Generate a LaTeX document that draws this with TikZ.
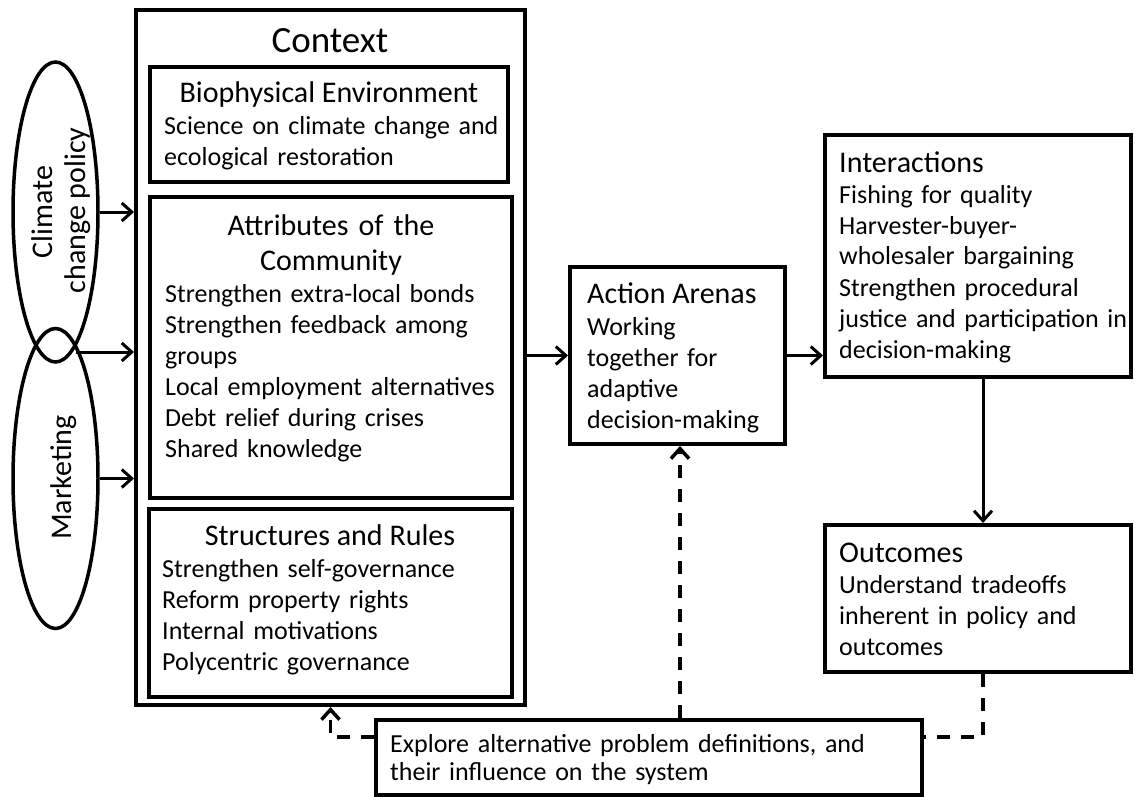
\documentclass[tikz,border=0pt]{standalone}
\usepackage{fontspec}
\setmainfont{Carlito}
\usetikzlibrary{arrows.meta,shapes.geometric}
\tikzset{
  box/.style={draw, rectangle, line width=4pt, inner sep=0pt},
  oval/.style={draw, ellipse, line width=3.5pt, inner sep=0pt,
    minimum width=85pt, minimum height=300pt},
  headtxt/.style={font=\fontsize{30}{35}\selectfont, inner sep=0pt},
  bodytxt/.style={font=\fontsize{26}{31}\selectfont, inner sep=0pt,
    text width=#1, align=left, anchor=base west},
  arr/.style={line width=3pt, -{Straight Barb[length=10pt,width=18pt]}},
  dsh/.style={line width=3.5pt, dash pattern=on 13pt off 11pt},
  darr/.style={dsh, -{Straight Barb[length=10pt,width=18pt]}}
}
\begin{document}
\begin{tikzpicture}[x=1pt,y=-1pt]
\useasboundingbox (0,0) rectangle (1135,797);

% external drivers
\node[oval] (clim) at (55.5,212) {};
\node[oval] (mkt) at (55.5,478.5) {};
\node[headtxt, rotate=90, anchor=base] (climT1) at (52,212) {Climate};
\node[headtxt, rotate=90, anchor=base] (climT2) at (85,210.5) {change policy};
\node[headtxt, rotate=90, anchor=base] (mktT) at (71,477.5) {Marketing};
\coordinate (lens) at (76,352);

% context frame and its three parts
\node[box, minimum width=389pt, minimum height=695pt] (ctx) at (330.5,357.5) {};
\node[font=\fontsize{37}{40}\selectfont, inner sep=0pt, anchor=base] (ctxT) at (330,53) {Context};

\node[box, minimum width=358pt, minimum height=115pt] (bio) at (329,124.5) {};
\node[headtxt, anchor=base] (bioT) at (329,103) {Biophysical Environment};
\node[bodytxt=340pt] (bioB) at (164,135)
  {Science on climate change and\\ecological restoration};

\node[box, minimum width=362pt, minimum height=301pt] (attr) at (331,347.5) {};
\node[headtxt, text width=340pt, align=center, anchor=base] (attrT) at (331,235)
  {Attributes of the\\Community};
\node[bodytxt=345pt] (attrB) at (165,302)
  {Strengthen extra-local bonds\\Strengthen feedback among\\groups\\Local employment alternatives\\Debt relief during crises\\Shared knowledge};

\node[box, minimum width=363pt, minimum height=188pt] (str) at (330.5,603) {};
\node[headtxt, anchor=base] (strT) at (330,545) {Structures and Rules};
\node[bodytxt=345pt] (strB) at (162,577)
  {Strengthen self-governance\\Reform property rights\\Internal motivations\\Polycentric governance};

% action arena
\node[box, minimum width=215pt, minimum height=177pt] (act) at (677.5,355.5) {};
\node[headtxt, anchor=base west] (actT) at (587,303) {Action Arenas};
\node[bodytxt=200pt] (actB) at (587,335)
  {Working\\together for\\adaptive\\decision-making};

% interactions and outcomes
\node[box, minimum width=306pt, minimum height=242pt] (inter) at (978,256) {};
\node[headtxt, anchor=base west] (interT) at (839,172) {Interactions};
\node[bodytxt=290pt] (interB) at (839,203)
  {Fishing for quality\\Harvester-buyer-\\wholesaler bargaining\\Strengthen procedural\\justice and participation in\\decision-making};

\node[box, minimum width=306pt, minimum height=147pt] (out) at (978,598.5) {};
\node[headtxt, anchor=base west] (outT) at (839,562) {Outcomes};
\node[bodytxt=290pt] (outB) at (839,593)
  {Understand tradeoffs\\inherent in policy and\\outcomes};

% feedback box
\node[box, minimum width=546pt, minimum height=75pt] (expl) at (649,757.5) {};
\node[bodytxt=520pt, font=\fontsize{26}{28.5}\selectfont] (explB) at (390,752)
  {Explore alternative problem definitions, and\\their influence on the system};

% connectors
\draw[arr] (clim.east) -- (clim.east -| ctx.west);
\draw[arr] (lens) -- (lens -| ctx.west);
\draw[arr] (mkt.east) -- (mkt.east -| ctx.west);
\draw[arr] (act.west -| ctx.east) -- (act.west);
\draw[arr] (act.east) -- (act.east -| inter.west);
\draw[arr] ([xshift=5pt]inter.south) -- ([xshift=5pt]out.north);

% dashed feedback loops
\draw[dsh] ([xshift=5pt]out.south) |- ([yshift=20.5pt]expl.east);
\draw[darr] ([xshift=31pt]expl.north) -- ([xshift=2.5pt]act.south);
\draw[darr] ([yshift=20.5pt]expl.west) -| (ctx.south);
\end{tikzpicture}
\end{document}
